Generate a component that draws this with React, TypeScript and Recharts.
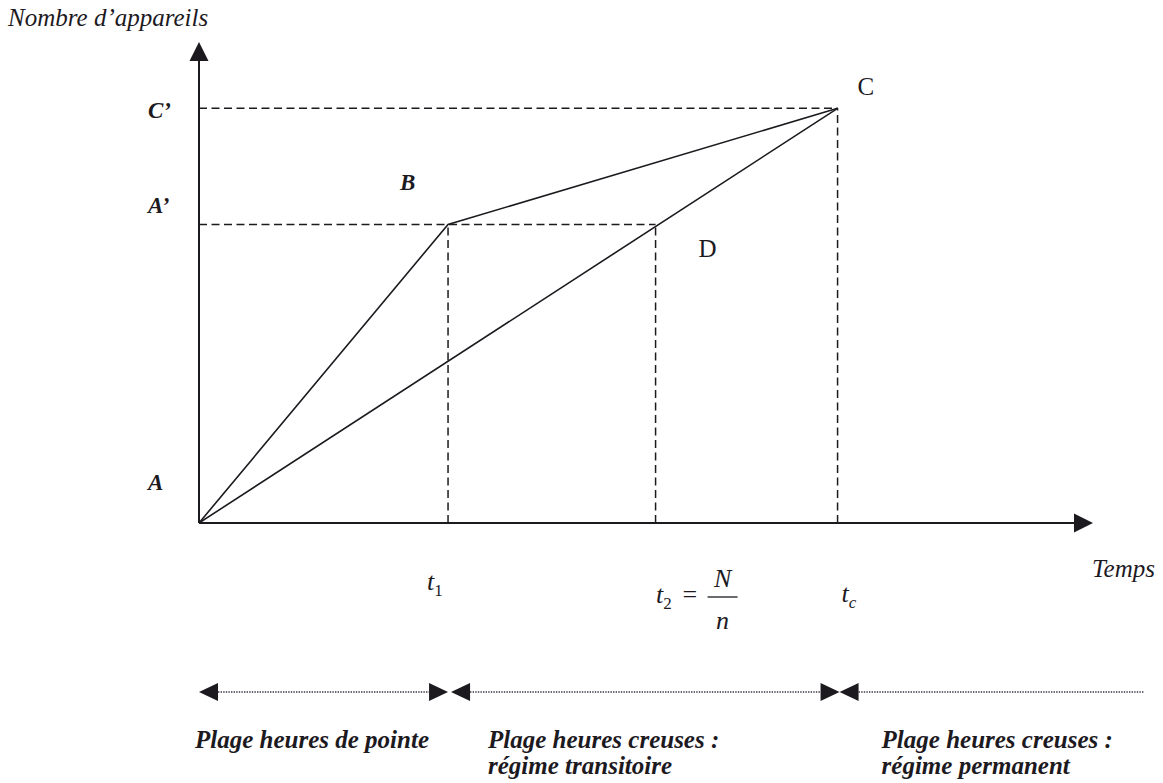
import React from 'react';
import { LineChart, Line, XAxis, YAxis, ReferenceLine, ReferenceDot } from 'recharts';

const FONT = '"Liberation Serif", "Times New Roman", serif';
const INK = '#1d1a1f';

// ---- data ----
const X_MAX = 140;
const Y_MAX = 116;
const timeTicks = [39, 71.5, 100]; // t1, t2 = N/n, tc
const levelTicks = [0, 72, 100]; // A, A', C'
const levelLabels = ['A', 'A\u2019', 'C\u2019'];
const pathABC = [
  { x: 0, y: 0 },
  { x: 39, y: 72 },
  { x: 100, y: 100 },
];
const pathAC = [
  { x: 0, y: 0 },
  { x: 100, y: 100 },
];
const vertexLabels = ['', 'B', 'C'];
const pointD = { x: 71.5, y: 72, label: 'D' };
const rangeBounds = [
  [0, 39],
  [39, 100],
  [100, 148],
];
const rangeLabels = [
  ['Plage heures de pointe'],
  ['Plage heures creuses :', 'r\u00e9gime transitoire'],
  ['Plage heures creuses :', 'r\u00e9gime permanent'],
];
const axisTitleY = 'Nombre d\u2019appareils';
const axisTitleX = 'Temps';

// dashed guides built from the points
const pB = pathABC[1];
const pC = pathABC[2];
const guides = [
  [{ x: 0, y: pC.y }, { x: pC.x, y: pC.y }],
  [{ x: pC.x, y: 0 }, { x: pC.x, y: pC.y }],
  [{ x: 0, y: pB.y }, { x: pointD.x, y: pointD.y }],
  [{ x: pB.x, y: 0 }, { x: pB.x, y: pB.y }],
  [{ x: pointD.x, y: 0 }, { x: pointD.x, y: pointD.y }],
];

const textBase = { fontFamily: FONT, fill: INK };

const TimeTick = (props: any) => {
  const { x, y, payload } = props;
  const i = timeTicks.indexOf(payload.value);
  if (i === 0) {
    return (
      <text x={x - 21} y={y + 67} {...textBase} fontSize={26} fontStyle="italic">
        t<tspan fontSize={17} fontStyle="normal" dy={6}>1</tspan>
      </text>
    );
  }
  if (i === 1) {
    return (
      <g>
        <text x={x + 0.5} y={y + 80} {...textBase} fontSize={26} fontStyle="italic">
          t<tspan fontSize={17} fontStyle="normal" dy={6}>2</tspan>
        </text>
        <text x={x + 27} y={y + 80} {...textBase} fontSize={26}>=</text>
        <line x1={x + 52} x2={x + 82} y1={y + 74} y2={y + 74} stroke={INK} strokeWidth={1.3} />
        <text x={x + 67} y={y + 64} {...textBase} fontSize={26} fontStyle="italic" textAnchor="middle">N</text>
        <text x={x + 67} y={y + 106} {...textBase} fontSize={26} fontStyle="italic" textAnchor="middle">n</text>
      </g>
    );
  }
  return (
    <text x={x + 4} y={y + 79} {...textBase} fontSize={26} fontStyle="italic">
      t<tspan fontSize={17} dy={6}>c</tspan>
    </text>
  );
};

const LevelTick = (props: any) => {
  const { x, y, payload } = props;
  const i = levelTicks.indexOf(payload.value);
  const dy = [-33, -11, 10][i] ?? 0;
  return (
    <text x={x - 51} y={y + dy} {...textBase} fontSize={23} fontStyle="italic" fontWeight="bold">
      {levelLabels[i]}
    </text>
  );
};

const XAxisShape = (p: any) => {
  const { x1, y1, x2 } = p;
  return (
    <g>
      <line x1={x1} y1={y1} x2={x2 - 18} y2={y1} stroke={INK} strokeWidth={2} />
      <polygon points={`${x2},${y1} ${x2 - 19},${y1 - 9.5} ${x2 - 19},${y1 + 9.5}`} fill={INK} />
      <text x={x2 - 1} y={y1 + 54} {...textBase} fontSize={25} fontStyle="italic">{axisTitleX}</text>
    </g>
  );
};

const YAxisShape = (p: any) => {
  const { x1, y1, y2 } = p;
  return (
    <g>
      <line x1={x1} y1={y1} x2={x1} y2={y2 + 17} stroke={INK} strokeWidth={2} />
      <polygon points={`${x1},${y2} ${x1 - 9.5},${y2 + 19} ${x1 + 9.5},${y2 + 19}`} fill={INK} />
      <text x={x1 - 191} y={y2 - 16} {...textBase} fontSize={25} fontStyle="italic">{axisTitleY}</text>
    </g>
  );
};

const makeRangeShape = (i: number) => (p: any) => {
  const { x1, y1, x2 } = p;
  const y = y1 + 169;
  const leftTip = x1 + [0, 3, 2][i];
  const hasRight = i < 2;
  const rightTip = x2 + [0, 2, 0][i];
  const lineStart = leftTip + 19;
  const lineEnd = hasRight ? rightTip - 19 : x2;
  const tx = x1 + [-4, 40, 44][i];
  return (
    <g>
      <line x1={lineStart} x2={lineEnd} y1={y} y2={y} stroke="#3a3540" strokeWidth={1.4} strokeDasharray="1.4 1.2" />
      <polygon points={`${leftTip},${y} ${leftTip + 19},${y - 9} ${leftTip + 19},${y + 9}`} fill={INK} />
      {hasRight && (
        <polygon points={`${rightTip},${y} ${rightTip - 19},${y - 9} ${rightTip - 19},${y + 9}`} fill={INK} />
      )}
      {rangeLabels[i].map((t, k) => (
        <text key={k} x={tx} y={y + 56 + k * 26} {...textBase} fontSize={25} fontStyle="italic" fontWeight="bold">
          {t}
        </text>
      ))}
    </g>
  );
};

const VertexLabel = (p: any) => {
  const { x, y, index } = p;
  const t = vertexLabels[index];
  if (!t) return null;
  if (t === 'B') {
    return (
      <text x={x - 48} y={y - 34} {...textBase} fontSize={23} fontStyle="italic" fontWeight="bold">{t}</text>
    );
  }
  return (
    <text x={x + 20} y={y - 13} {...textBase} fontSize={25}>{t}</text>
  );
};

export default function App() {
  return (
    <div style={{ position: 'absolute', left: 0, top: 0, background: '#fff' }}>
      <LineChart
        width={1163}
        height={783}
        margin={{ top: 42, right: 70, bottom: 200, left: 139 }}
      >
        <XAxis
          type="number"
          dataKey="x"
          domain={[0, X_MAX]}
          ticks={timeTicks}
          allowDataOverflow
          axisLine={false}
          tickLine={false}
          tickSize={0}
          tickMargin={0}
          height={60}
          tick={<TimeTick />}
          interval={0}
        />
        <YAxis
          type="number"
          dataKey="y"
          domain={[0, Y_MAX]}
          ticks={levelTicks}
          allowDataOverflow
          axisLine={false}
          tickLine={false}
          tickSize={0}
          tickMargin={0}
          width={60}
          tick={<LevelTick />}
          interval={0}
        />
        {guides.map((seg, k) => (
          <ReferenceLine
            key={`g${k}`}
            segment={seg}
            stroke={INK}
            strokeWidth={1.5}
            strokeDasharray="8 4.5"
            ifOverflow="visible"
          />
        ))}
        <ReferenceLine
          segment={[{ x: 0, y: 0 }, { x: X_MAX, y: 0 }]}
          ifOverflow="visible"
          shape={XAxisShape}
        />
        <ReferenceLine
          segment={[{ x: 0, y: 0 }, { x: 0, y: Y_MAX }]}
          ifOverflow="visible"
          shape={YAxisShape}
        />
        {rangeBounds.map((r, i) => (
          <ReferenceLine
            key={`r${i}`}
            segment={[{ x: r[0], y: 0 }, { x: r[1], y: 0 }]}
            ifOverflow="visible"
            shape={makeRangeShape(i)}
          />
        ))}
        <Line
          data={pathAC}
          dataKey="y"
          type="linear"
          stroke={INK}
          strokeWidth={1.6}
          dot={false}
          isAnimationActive={false}
        />
        <Line
          data={pathABC}
          dataKey="y"
          type="linear"
          stroke={INK}
          strokeWidth={1.6}
          dot={false}
          isAnimationActive={false}
          label={<VertexLabel />}
        />
        <ReferenceDot
          x={pointD.x}
          y={pointD.y}
          r={0}
          ifOverflow="visible"
          shape={(p: any) => (
            <text x={p.cx + 43} y={p.cy + 33} {...textBase} fontSize={25}>{pointD.label}</text>
          )}
        />
      </LineChart>
    </div>
  );
}
